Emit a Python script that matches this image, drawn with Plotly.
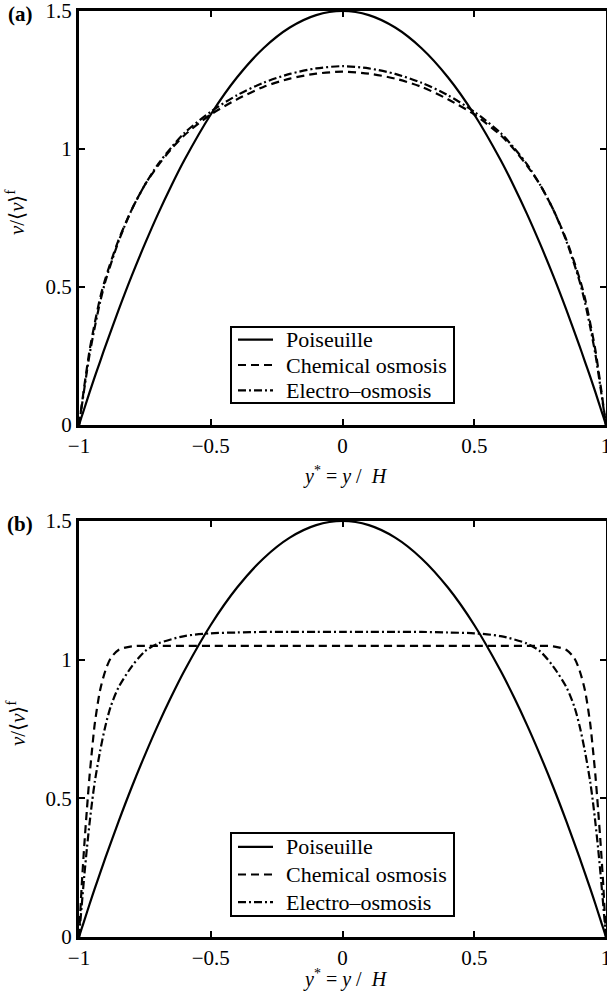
import plotly.graph_objects as go

W, H = 607, 991

# ---- data -------------------------------------------------------------
# panel (a): transverse coordinate y* = y/H and velocity profiles v/<v>^f
ystar_a = [-1, -0.99, -0.98, -0.96, -0.94, -0.92, -0.9, -0.85, -0.8, -0.75,
           -0.7, -0.65, -0.6, -0.5, -0.4, -0.3, -0.2, -0.1, 0,
           0.1, 0.2, 0.3, 0.4, 0.5, 0.6, 0.65, 0.7, 0.75, 0.8,
           0.85, 0.9, 0.92, 0.94, 0.96, 0.98, 0.99, 1]
poiseuille = [0, 0.030, 0.059, 0.118, 0.175, 0.230, 0.285, 0.416, 0.540, 0.656,
              0.765, 0.866, 0.960, 1.125, 1.260, 1.365, 1.440, 1.485, 1.500,
              1.485, 1.440, 1.365, 1.260, 1.125, 0.960, 0.866, 0.765, 0.656, 0.540,
              0.416, 0.285, 0.230, 0.175, 0.118, 0.059, 0.030, 0]
chem_a = [0, 0.070, 0.140, 0.270, 0.370, 0.460, 0.530, 0.670, 0.780, 0.870,
          0.940, 1.000, 1.050, 1.125, 1.180, 1.225, 1.255, 1.273, 1.280,
          1.273, 1.255, 1.225, 1.180, 1.125, 1.050, 1.000, 0.940, 0.870, 0.780,
          0.670, 0.530, 0.460, 0.370, 0.270, 0.140, 0.070, 0]
electro_a = [0, 0.065, 0.130, 0.255, 0.355, 0.445, 0.520, 0.665, 0.780, 0.870,
             0.945, 1.005, 1.058, 1.135, 1.195, 1.240, 1.272, 1.292, 1.300,
             1.292, 1.272, 1.240, 1.195, 1.135, 1.058, 1.005, 0.945, 0.870, 0.780,
             0.665, 0.520, 0.445, 0.355, 0.255, 0.130, 0.065, 0]

# panel (b): thin boundary layers
ystar_b = [-1, -0.995, -0.99, -0.98, -0.97, -0.96, -0.95, -0.94, -0.92, -0.9,
           -0.88, -0.85, -0.8, -0.75, -0.7, -0.6, -0.5, -0.4, -0.3, -0.2, -0.1, 0,
           0.1, 0.2, 0.3, 0.4, 0.5, 0.6, 0.7, 0.75, 0.8, 0.85,
           0.88, 0.9, 0.92, 0.94, 0.95, 0.96, 0.97, 0.98, 0.99, 0.995, 1]
chem_b = [0, 0.090, 0.180, 0.330, 0.460, 0.580, 0.680, 0.770, 0.890, 0.960,
          1.005, 1.035, 1.048, 1.050, 1.050, 1.050, 1.050, 1.050, 1.050, 1.050, 1.050, 1.050,
          1.050, 1.050, 1.050, 1.050, 1.050, 1.050, 1.050, 1.050, 1.048, 1.035,
          1.005, 0.960, 0.890, 0.770, 0.680, 0.580, 0.460, 0.330, 0.180, 0.090, 0]
electro_b = [0, 0.055, 0.110, 0.220, 0.320, 0.410, 0.490, 0.560, 0.670, 0.760,
             0.830, 0.900, 0.975, 1.030, 1.058, 1.085, 1.095, 1.098, 1.100, 1.100, 1.100, 1.100,
             1.100, 1.100, 1.100, 1.098, 1.095, 1.085, 1.058, 1.030, 0.975, 0.900,
             0.830, 0.760, 0.670, 0.560, 0.490, 0.410, 0.320, 0.220, 0.110, 0.055, 0]

series_names = ["Poiseuille", "Chemical osmosis", "Electro\u2013osmosis"]
x_ticks = [-1, -0.5, 0, 0.5, 1]
x_ticktext = ["\u22121", "\u22120.5", "0", "0.5", "1"]
y_ticks = [0, 0.5, 1, 1.5]
y_ticktext = ["0", "0.5", "1", "1.5"]

# ---- styling ----------------------------------------------------------
FONT = "Liberation Serif, Times New Roman, Times, serif"
DASH = {"Poiseuille": "solid",
        "Chemical osmosis": "8px,5px",
        "Electro\u2013osmosis": "8px,3px,2px,3px"}
LW = 2.2


def px(x):
    return x / W


def py(y):
    return 1 - y / H


fig = go.Figure()

panels = [
    ("x", "y", ystar_a, [poiseuille, chem_a, electro_a], ystar_a),
    ("x2", "y2", ystar_b, [poiseuille, chem_b, electro_b], ystar_a),
]
for xa, ya, xs, curves, xs_p in panels:
    for name, vals in zip(series_names, curves):
        xv = xs_p if name == "Poiseuille" else xs
        fig.add_trace(go.Scatter(
            x=xv, y=vals, xaxis=xa, yaxis=ya, mode="lines", name=name,
            line=dict(color="black", width=LW, dash=DASH[name],
                      shape="spline", smoothing=0.8),
            showlegend=False, hoverinfo="skip"))

axis_common = dict(
    showline=True, linecolor="black", linewidth=3, mirror="allticks",
    ticks="inside", ticklen=6, tickwidth=2, tickcolor="black",
    showgrid=False, zeroline=False, automargin=False,
    ticklabeloverflow="allow",
    tickfont=dict(family=FONT, size=21, color="black"),
)

xdom = [px(79), px(606)]
fig.update_layout(
    width=W, height=H,
    margin=dict(l=0, r=0, t=0, b=0, autoexpand=False),
    paper_bgcolor="white", plot_bgcolor="white",
    showlegend=False,
    xaxis=dict(domain=xdom, anchor="y", range=[-1, 1],
               tickvals=x_ticks, ticktext=x_ticktext, **axis_common),
    yaxis=dict(domain=[py(425), py(11)], anchor="x", range=[0, 1.5],
               tickvals=y_ticks, ticktext=y_ticktext, **axis_common),
    xaxis2=dict(domain=xdom, anchor="y2", range=[-1, 1],
                tickvals=x_ticks, ticktext=x_ticktext, **axis_common),
    yaxis2=dict(domain=[py(937), py(521)], anchor="x2", range=[0, 1.5],
                tickvals=y_ticks, ticktext=y_ticktext, **axis_common),
)

annotations = []
shapes = []

# panel letters, axis titles and legends
ylabel = "<i>v</i>/\u27e8<i>v</i>\u27e9<sup>f</sup>"
xlabel = "<i>y</i><sup>*</sup> = <i>y</i> /  <i>H</i>"
for letter, top, bottom, xlab_y, leg_top, leg_bottom in [
        ("(a)", 11, 425, 475, 327, 403),
        ("(b)", 521, 937, 978, 833, 916)]:
    annotations.append(dict(
        x=px(20), y=py(top + 3), xref="paper", yref="paper", text="<b>%s</b>" % letter,
        showarrow=False, font=dict(family=FONT, size=21, color="black"),
        xanchor="center", yanchor="middle"))
    annotations.append(dict(
        x=px(16), y=py((top + bottom) / 2 - 6), xref="paper", yref="paper", text=ylabel,
        textangle=-90, showarrow=False,
        font=dict(family=FONT, size=21, color="black"),
        xanchor="center", yanchor="middle"))
    annotations.append(dict(
        x=px(345), y=py(xlab_y), xref="paper", yref="paper", text=xlabel,
        showarrow=False, font=dict(family=FONT, size=20, color="black"),
        xanchor="center", yanchor="middle"))

    # legend frame
    shapes.append(dict(type="rect", xref="paper", yref="paper",
                       x0=px(231), x1=px(454), y0=py(leg_bottom), y1=py(leg_top),
                       line=dict(color="black", width=2), fillcolor="white",
                       layer="above"))
    step = (leg_bottom - leg_top) / 3.0
    for i, name in enumerate(series_names):
        yc = leg_top + step * (i + 0.5)
        shapes.append(dict(type="line", xref="paper", yref="paper",
                           x0=px(238), x1=px(273), y0=py(yc), y1=py(yc),
                           line=dict(color="black", width=LW, dash=DASH[name]),
                           layer="above"))
        annotations.append(dict(
            x=px(284), y=py(yc), xref="paper", yref="paper", text=name,
            showarrow=False, font=dict(family=FONT, size=22, color="black"),
            xanchor="left", yanchor="middle"))

fig.update_layout(annotations=annotations, shapes=shapes)

fig.write_html("out.html")
